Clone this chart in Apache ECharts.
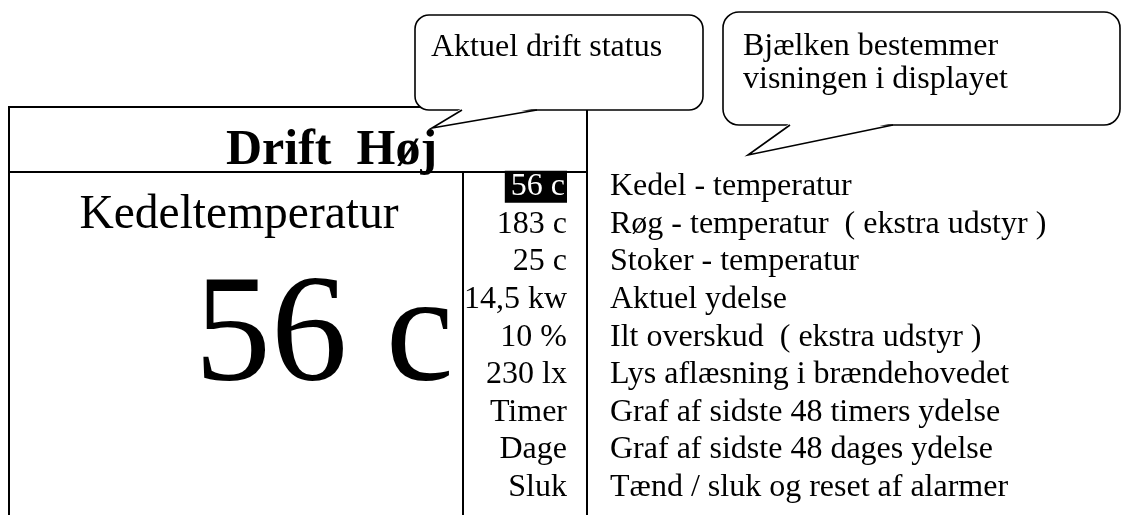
<!DOCTYPE html>
<html>
<head>
<meta charset="utf-8">
<script src="https://cdn.jsdelivr.net/npm/echarts@6/dist/echarts.min.js"></script>
<style>
  html, body { margin: 0; padding: 0; background: #fff; }
  #main { width: 1121px; height: 515px; }
</style>
</head>
<body>
<div id="main"></div>
<script>
// display menu: reading in the bar + what it means
const readings = ['56 c', '183 c', '25 c', '14,5 kw', '10 %', '230 lx', 'Timer', 'Dage', 'Sluk'];
const descriptions = [
  'Kedel - temperatur',
  'Røg - temperatur  ( ekstra udstyr )',
  'Stoker - temperatur',
  'Aktuel ydelse',
  'Ilt overskud  ( ekstra udstyr )',
  'Lys aflæsning i brændehovedet',
  'Graf af sidste 48 timers ydelse',
  'Graf af sidste 48 dages ydelse',
  'Tænd / sluk og reset af alarmer'
];
const selectedRow = 0;
const statusText = 'Drift  Høj';
const selectedTitle = 'Kedeltemperatur';
const calloutStatus = ['Aktuel drift status'];
const calloutBar = ['Bjælken bestemmer', 'visningen i displayet'];

const FONT = '"Liberation Serif", "Times New Roman", serif';
const rowIdx = readings.map((_, i) => String(i));

// text helper, y = baseline
function txt(s, x, base, size, align, bold) {
  return {
    type: 'text',
    silent: true,
    style: {
      text: s, x: x, y: base - size * 0.296,
      font: (bold ? 'bold ' : '') + size + 'px ' + FONT,
      fill: '#000', textAlign: align, textVerticalAlign: 'middle'
    }
  };
}

// rounded box with a wedge tail
function callout(x, y, w, h, r, tail, lines, tx, tBase, lh) {
  const els = [
    { type: 'rect', silent: true, shape: { x: x, y: y, width: w, height: h, r: r },
      style: { fill: '#fff', stroke: '#000', lineWidth: 1.6 } },
    { type: 'polygon', silent: true,
      shape: { points: [[tail[0][0], tail[0][1] - 2], tail[1], [tail[2][0], tail[2][1] - 2]] },
      style: { fill: '#fff', stroke: null } },
    { type: 'polyline', silent: true, shape: { points: tail },
      style: { fill: null, stroke: '#000', lineWidth: 1.6 } }
  ];
  lines.forEach((s, i) => els.push(txt(s, tx, tBase + i * lh, 32, 'left', false)));
  return els;
}

const chart = echarts.init(document.getElementById('main'));

const graphics = [
  // display frame
  { type: 'rect', silent: true, shape: { x: 9, y: 107, width: 578, height: 430 },
    style: { fill: null, stroke: '#000', lineWidth: 2 } },
  { type: 'line', silent: true, shape: { x1: 9, y1: 172, x2: 587, y2: 172 },
    style: { stroke: '#000', lineWidth: 2 } },
  { type: 'line', silent: true, shape: { x1: 463, y1: 172, x2: 463, y2: 540 },
    style: { stroke: '#000', lineWidth: 2 } },
  txt(statusText, 226, 166, 50, 'left', true),
  txt(selectedTitle, 239, 230, 47.5, 'center', false),
  txt(readings[selectedRow], 324, 385, 153, 'center', false)
].concat(
  callout(415, 15, 288, 95, 14, [[462, 110], [432, 128], [537, 110]], calloutStatus, 431, 57, 36),
  callout(723, 12, 397, 113, 16, [[790, 125], [748, 155], [893, 125]], calloutBar, 743, 56, 33)
);

chart.setOption({
  animation: false,
  backgroundColor: '#fff',
  grid: { left: 567, right: 1121 - 610, top: 168, height: 9 * 37.6 },
  xAxis: { type: 'category', data: ['reading', 'meaning'], boundaryGap: false, show: false },
  yAxis: { type: 'category', data: rowIdx, inverse: true, show: false },
  graphic: graphics,
  series: [
    {
      type: 'scatter', silent: true, symbolSize: 1,
      itemStyle: { color: 'rgba(0,0,0,0)', opacity: 1 },
      label: { show: true, position: 'inside', align: 'right', verticalAlign: 'middle',
        fontFamily: FONT, fontSize: 32, color: '#000',
        formatter: p => readings[p.dataIndex] },
      data: readings.map((_, i) => i === selectedRow
        ? { value: ['reading', rowIdx[i]],
            label: { color: '#fff', backgroundColor: '#000', padding: [0, 2, 0, 6] } }
        : { value: ['reading', rowIdx[i]] })
    },
    {
      type: 'scatter', silent: true, symbolSize: 1,
      itemStyle: { color: 'rgba(0,0,0,0)', opacity: 1 },
      label: { show: true, position: 'inside', align: 'left', verticalAlign: 'middle',
        fontFamily: FONT, fontSize: 32, color: '#000',
        formatter: p => descriptions[p.dataIndex] },
      data: descriptions.map((_, i) => ['meaning', rowIdx[i]])
    }
  ]
});
</script>
</body>
</html>
